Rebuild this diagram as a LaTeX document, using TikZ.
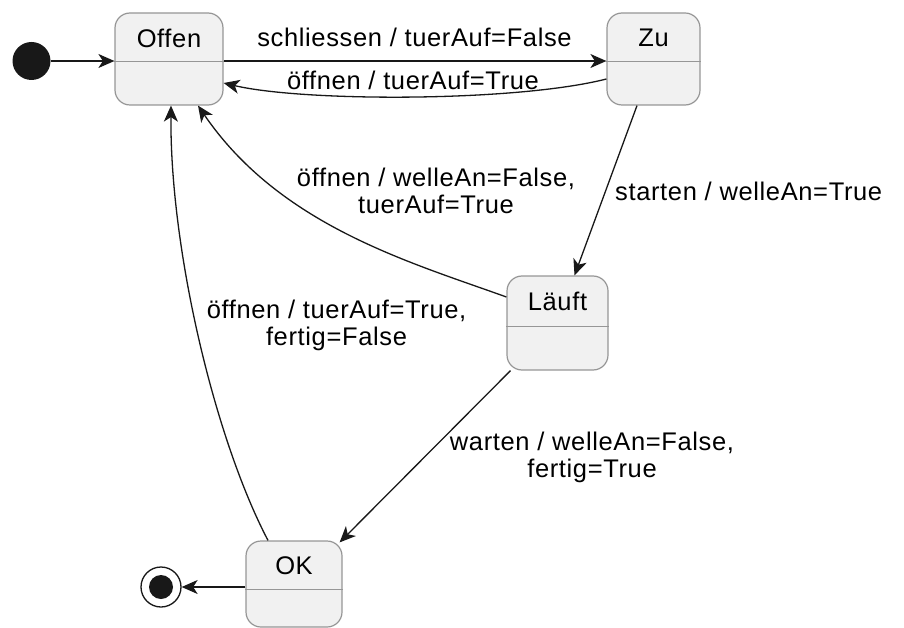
\documentclass[tikz,border=0pt]{standalone}
\usepackage{fontspec}
\setmainfont{Liberation Sans}[LetterSpace=2.5]
\usetikzlibrary{arrows.meta}
\definecolor{statefill}{RGB}{241,241,241}
\definecolor{stateline}{RGB}{150,150,150}
\definecolor{ink}{RGB}{24,24,24}

\begin{document}
\begin{tikzpicture}[x=1pt, y=-1pt,
    font=\fontsize{25.5}{27}\selectfont,
    statebox/.style={draw=stateline, fill=statefill, line width=1.2pt, rounded corners=15pt, inner sep=0pt},
    statename/.style={anchor=north, inner sep=0pt, yshift=-16pt},
    divider/.style={draw=stateline, line width=1.5pt},
    trans/.style={draw=ink, line width=1.3pt, -{Stealth[length=16pt, width=14pt, inset=4.5pt]}},
    lbl/.style={inner sep=0pt, anchor=base, align=center}]
    \useasboundingbox (0,0) rectangle (904,628);
    % states
    \node[statebox, minimum width=108pt, minimum height=92pt, label={[statename]north:Offen}] (offen) at (169,59) {};
    \node[statebox, minimum width=93pt, minimum height=92pt, label={[statename]north:Zu}] (zu) at (653.5,59) {};
    \node[statebox, minimum width=101pt, minimum height=94pt, label={[statename]north:Läuft}] (laeuft) at (557.5,323) {};
    \node[statebox, minimum width=96pt, minimum height=86pt, label={[statename]north:OK}] (ok) at (294,584) {};
    \foreach \s/\d in {offen/49, zu/49, laeuft/51, ok/49}
        \draw[divider] ([yshift=-\d pt]\s.north west) -- ([yshift=-\d pt]\s.north east);
    \node[circle, fill=ink, minimum size=38pt, inner sep=0pt] (start) at (31.5,61) {};
    \node[circle, draw=ink, fill=white, line width=1.3pt, minimum size=40pt, inner sep=0pt,
        path picture={\fill[ink] (path picture bounding box.center) circle (12pt);}] (stop) at (161,587) {};
    % transitions
    \draw[trans] (start) -- (start -| offen.west);
    \draw[trans] ([yshift=-2pt]offen.east) -- ([yshift=-2pt]zu.west);
    \draw[trans] ([yshift=-20pt]zu.west) .. controls +(-90,23) and +(80,19) .. ([yshift=-24pt]offen.east);
    \draw[trans] ([xshift=-16.5pt]zu.south) -- ([xshift=17pt]laeuft.north);
    \draw[trans] ([yshift=26pt]laeuft.west) .. controls +(-97,-35) and +(82,120) .. ([xshift=29pt]offen.south);
    \draw[trans] ([xshift=-26pt]ok.north) .. controls +(-53,-101) and +(-1,145) .. ([xshift=2pt]offen.south);
    \draw[trans] ([xshift=-47pt]laeuft.south) -- ([shift={(-3pt,-2pt)}]ok.north east);
    \draw[trans] (stop -| ok.west) -- (stop);
    % labels (base = last line)
    \node[lbl] (l1) at (414.5,46.7) {schliessen / tuerAuf=False};
    \node[lbl] (l2) at (413,90) {öffnen / tuerAuf=True};
    \node[lbl, anchor=base west] (l3) at (615,201) {starten / welleAn=True};
    \node[lbl] (l4) at (436,214) {öffnen / welleAn=False,\\tuerAuf=True};
    \node[lbl] (l5) at (336.5,345) {öffnen / tuerAuf=True,\\fertig=False};
    \node[lbl] (l6) at (592,477) {warten / welleAn=False,\\fertig=True};
\end{tikzpicture}
\end{document}
